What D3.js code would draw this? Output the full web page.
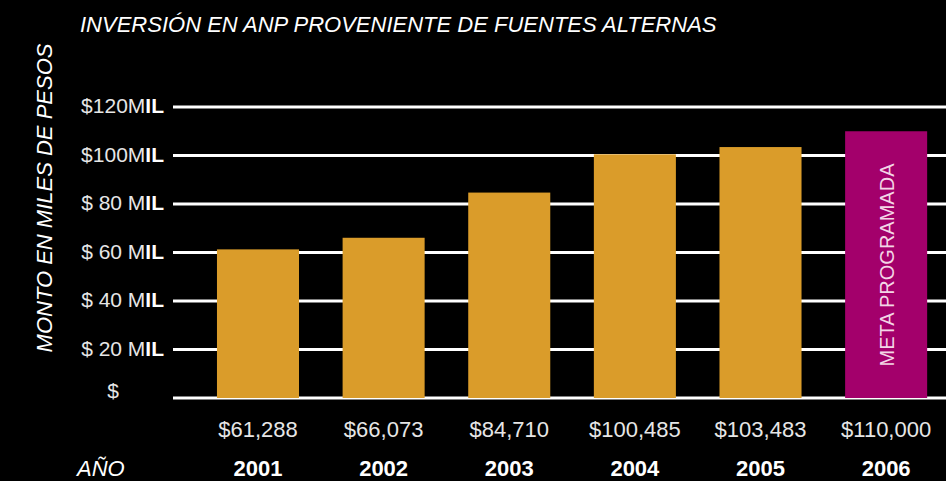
<!DOCTYPE html>
<html lang="es">
<head>
    <meta charset="UTF-8">
    <title>Inversión en ANP</title>
    <script src="https://cdn.jsdelivr.net/npm/d3@7"></script>
    <style>
      body { margin: 0; background: #000; }
      text { font-family: "Liberation Sans", Arial, sans-serif; }
    </style>
</head>
<body>
    <script>
      const years = ["2001", "2002", "2003", "2004", "2005", "2006"];
      const amounts = [61.288, 66.073, 84.710, 100.485, 103.483, 110.000];
      const amountLabels = ["$61,288", "$66,073", "$84,710", "$100,485", "$103,483", "$110,000"];
      const ticks = [0, 20, 40, 60, 80, 100, 120];
      const tickLabels = ["$", "$ 20 M", "$ 40 M", "$ 60 M", "$ 80 M", "$100M", "$120M"];

      const w = 946;
      const h = 481;

      const xScale = d3.scaleBand()
                       .domain(years)
                       .range([173, 946])
                       .paddingInner(0.347)
                       .paddingOuter(0.25)
                       .align(0.7);

      const yScale = d3.scaleLinear()
                       .domain([0, 120])
                       .range([398, 107]);

      const svg = d3.select("body")
                    .append("svg")
                    .attr("width", w)
                    .attr("height", h)
                    .style("background", "#000");

      // title
      svg.append("text")
         .attr("x", 80)
         .attr("y", 32)
         .attr("fill", "#fff")
         .attr("font-size", 22)
         .attr("font-style", "italic")
         .text("INVERSIÓN EN ANP PROVENIENTE DE FUENTES ALTERNAS");

      // y-axis title
      svg.append("text")
         .attr("transform", "translate(52, 198) rotate(-90)")
         .attr("text-anchor", "middle")
         .attr("fill", "#fff")
         .attr("font-size", 22)
         .attr("font-style", "italic")
         .text("MONTO EN MILES DE PESOS");

      // gridlines
      svg.selectAll("line.grid")
         .data(ticks)
         .enter()
         .append("line")
         .attr("class", "grid")
         .attr("x1", 173)
         .attr("x2", w)
         .attr("y1", (d) => yScale(d))
         .attr("y2", (d) => yScale(d))
         .attr("stroke", "#fff")
         .attr("stroke-width", 3);

      // tick labels
      const tl = svg.selectAll("text.tick")
         .data(ticks)
         .enter()
         .append("text")
         .attr("class", "tick")
         .attr("x", 164)
         .attr("y", (d) => yScale(d) + 6)
         .attr("text-anchor", "end")
         .attr("fill", "#e6e6e6")
         .attr("font-size", 21);
      tl.each(function(d, i) {
          const t = d3.select(this);
          if (d === 0) {
            t.attr("x", 113).attr("y", yScale(d)).attr("text-anchor", "middle").text(tickLabels[i]);
            return;
          }
          t.append("tspan").text(tickLabels[i]);
          t.append("tspan").attr("font-weight", "bold").attr("fill", "#fff").text("IL");
      });

      // bars
      svg.selectAll("rect")
         .data(amounts)
         .enter()
         .append("rect")
         .attr("x", (d, i) => xScale(years[i]))
         .attr("y", (d) => yScale(d))
         .attr("width", xScale.bandwidth())
         .attr("height", (d) => yScale(0) - yScale(d))
         .attr("fill", (d, i) => i === years.length - 1 ? "#a3006b" : "#da9c2a");

      // label inside last bar
      const lastX = xScale(years[years.length - 1]) + xScale.bandwidth() / 2;
      svg.append("text")
         .attr("transform", `translate(${lastX + 8}, 265) rotate(-90)`)
         .attr("text-anchor", "middle")
         .attr("fill", "#f3d6e6")
         .attr("font-size", 20)
         .text("META PROGRAMADA");

      // amount labels
      svg.selectAll("text.amount")
         .data(amountLabels)
         .enter()
         .append("text")
         .attr("class", "amount")
         .attr("x", (d, i) => xScale(years[i]) + xScale.bandwidth() / 2)
         .attr("y", 437)
         .attr("text-anchor", "middle")
         .attr("fill", "#e6e6e6")
         .attr("font-size", 22)
         .text((d) => d);

      // year labels
      svg.selectAll("text.year")
         .data(years)
         .enter()
         .append("text")
         .attr("class", "year")
         .attr("x", (d) => xScale(d) + xScale.bandwidth() / 2)
         .attr("y", 476)
         .attr("text-anchor", "middle")
         .attr("fill", "#fff")
         .attr("font-size", 22)
         .attr("font-weight", "bold")
         .text((d) => d);

      svg.append("text")
         .attr("x", 77)
         .attr("y", 476)
         .attr("fill", "#fff")
         .attr("font-size", 22)
         .attr("font-style", "italic")
         .text("AÑO");
    </script>
</body>
</html>
